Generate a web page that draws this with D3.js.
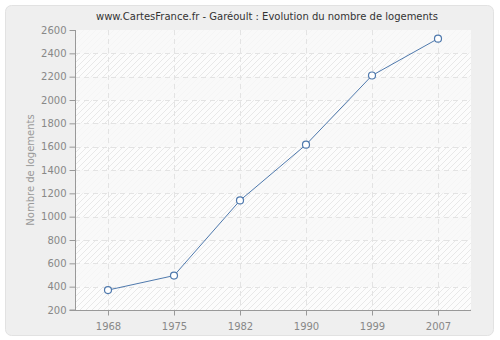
<!DOCTYPE html>
<html>
<head>
<meta charset="utf-8">
<script src="https://cdn.jsdelivr.net/npm/d3@7"></script>
<style>
  html, body { margin: 0; padding: 0; background: #ffffff; }
  svg { display: block; font-family: "DejaVu Sans", sans-serif; }
</style>
</head>
<body>
<svg id="chart" width="500" height="340"></svg>
<script>
// Housing count in Garéoult per census year
const years = ["1968", "1975", "1982", "1990", "1999", "2007"];
const logements = [371, 495, 1139, 1617, 2210, 2526];
const yTicks = [200, 400, 600, 800, 1000, 1200, 1400, 1600, 1800, 2000, 2200, 2400, 2600];

const titleText = "www.CartesFrance.fr - Garéoult : Evolution du nombre de logements";
const yTitle = "Nombre de logements";

const svg = d3.select("#chart");
const plot = { left: 75, right: 471, top: 30, bottom: 310 };

// outer panel
svg.append("rect")
  .attr("x", 5.5).attr("y", 5.5)
  .attr("width", 488).attr("height", 330)
  .attr("rx", 6).attr("ry", 6)
  .attr("fill", "#efefef")
  .attr("stroke", "#e2e2e2");

// hatching pattern for plot background
const defs = svg.append("defs");
const pat = defs.append("pattern")
  .attr("id", "hatch")
  .attr("patternUnits", "userSpaceOnUse")
  .attr("width", 6).attr("height", 6);
pat.append("rect").attr("width", 6).attr("height", 6).attr("fill", "#fcfcfc");
pat.append("path")
  .attr("d", "M-1,7 L7,-1 M-4,4 L4,-4 M2,10 L10,2")
  .attr("stroke", "#e8e8e8").attr("stroke-width", 1);

const x = d3.scalePoint().domain(years).range([plot.left, plot.right]).padding(0.5);
const y = d3.scaleLinear().domain([200, 2600]).range([plot.bottom, plot.top]);

svg.append("rect")
  .attr("x", plot.left).attr("y", plot.top)
  .attr("width", plot.right - plot.left).attr("height", plot.bottom - plot.top)
  .attr("fill", "url(#hatch)");

// alternate lighter bands
const bands = d3.range(0, yTicks.length - 1).filter(i => i % 2 === 1);
svg.append("g").selectAll("rect").data(bands).join("rect")
  .attr("x", plot.left)
  .attr("width", plot.right - plot.left)
  .attr("y", i => y(yTicks[i + 1]))
  .attr("height", i => y(yTicks[i]) - y(yTicks[i + 1]))
  .attr("fill", "#f7f7f7")
  .attr("opacity", 0.8);

// grid
const grid = svg.append("g").attr("stroke", "#e3e3e3").attr("stroke-dasharray", "5,4").attr("stroke-width", 1);
grid.selectAll("line.h").data(yTicks.slice(1, -1)).join("line")
  .attr("x1", plot.left).attr("x2", plot.right)
  .attr("y1", d => Math.round(y(d)) + 0.5).attr("y2", d => Math.round(y(d)) + 0.5);
grid.selectAll("line.v").data(years).join("line")
  .attr("x1", d => Math.round(x(d)) + 0.5).attr("x2", d => Math.round(x(d)) + 0.5)
  .attr("y1", plot.top).attr("y2", plot.bottom);

// axes
const yAxis = svg.append("g")
  .attr("transform", `translate(${plot.left + 0.5},0)`)
  .call(d3.axisLeft(y).tickValues(yTicks).tickFormat(d3.format("d")).tickSize(6).tickPadding(3));
const xAxis = svg.append("g")
  .attr("transform", `translate(0,${plot.bottom + 0.5})`)
  .call(d3.axisBottom(x).tickSize(5).tickPadding(7));

[yAxis, xAxis].forEach(a => {
  a.select(".domain").attr("stroke", "#999");
  a.selectAll(".tick line").attr("stroke", "#999");
  a.selectAll(".tick text")
    .attr("fill", "#888")
    .attr("font-size", 10)
    .attr("font-family", "DejaVu Sans, sans-serif");
});
yAxis.select(".domain").attr("d", `M-6,${plot.bottom}H0V${plot.top}`);
xAxis.select(".domain").attr("d", `M${plot.left},0H${plot.right}`);

// title
svg.append("text")
  .attr("x", 267).attr("y", 20)
  .attr("text-anchor", "middle")
  .attr("font-size", 10)
  .attr("fill", "#333")
  .text(titleText);

// y axis title
svg.append("text")
  .attr("transform", `translate(34,${(plot.top + plot.bottom) / 2}) rotate(-90)`)
  .attr("text-anchor", "middle")
  .attr("font-size", 10)
  .attr("fill", "#999")
  .text(yTitle);

// series
const data = years.map((yr, i) => ({ yr, v: logements[i] }));
svg.append("path")
  .datum(data)
  .attr("fill", "none")
  .attr("stroke", "#4f79ad")
  .attr("stroke-width", 1)
  .attr("d", d3.line().x(d => x(d.yr)).y(d => y(d.v)));

svg.append("g").selectAll("circle").data(data).join("circle")
  .attr("cx", d => x(d.yr)).attr("cy", d => y(d.v))
  .attr("r", 3.5)
  .attr("fill", "#fff")
  .attr("stroke", "#4f79ad")
  .attr("stroke-width", 1.2);
</script>
</body>
</html>
